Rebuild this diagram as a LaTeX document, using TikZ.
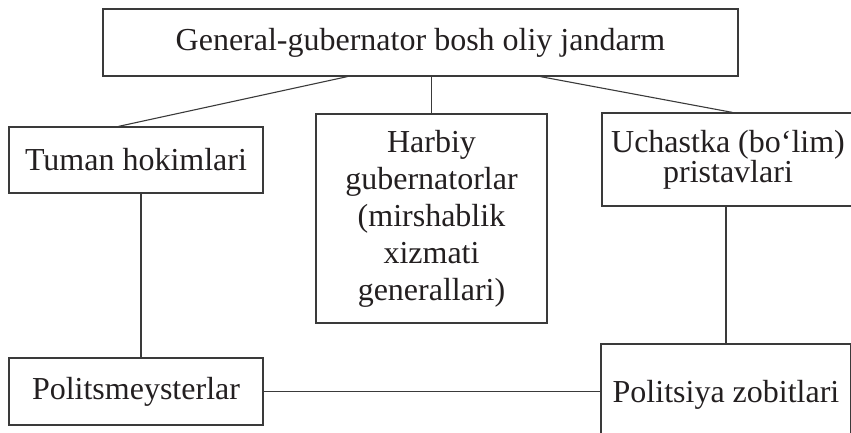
\documentclass[tikz,border=0pt]{standalone}
\usepackage{fontspec}
\setmainfont{Liberation Serif}
\definecolor{inkc}{HTML}{231F20}
\definecolor{linec}{HTML}{3A3A3A}
\begin{document}
\begin{tikzpicture}[x=1pt,y=-1pt,
  box/.style={draw=linec, line width=1.2pt, rectangle, inner sep=0pt, align=center,
    text=inkc, font=\fontsize{32}{37}\selectfont},
  conn/.style={draw=linec, line width=1.1pt}]
\useasboundingbox (0,0) rectangle (851,432);
\clip (0,0) rectangle (851,432);
\node[box, minimum width=635pt, minimum height=67pt] (top) at (420.5,42.5) {General-gubernator bosh oliy jandarm};
\node[box, minimum width=254pt, minimum height=66pt] (tuman) at (136,160) {Tuman hokimlari};
\node[box, minimum width=231pt, minimum height=209pt] (harbiy) at (431.5,218.5) {Harbiy\\gubernatorlar\\(mirshablik\\xizmati\\generallari)};
\node[box, minimum width=252pt, minimum height=93pt, font=\fontsize{32}{28.5}\selectfont] (uch) at (728,159.5) {Uchastka (bo‘lim)\\pristavlari};
\node[box, minimum width=254pt, minimum height=67pt] (polm) at (136,391.5) {Politsmeysterlar};
\node[box, minimum width=250pt, minimum height=102pt] (polz) at (726,395) {Politsiya zobitlari};
\draw[conn] ([xshift=245pt]top.south west) -- ([xshift=110pt]tuman.north west);
\draw[conn] (top.south -| harbiy.north) -- (harbiy.north);
\draw[conn] ([xshift=438pt]top.south west) -- ([xshift=131pt]uch.north west);
\draw[conn] ([xshift=5pt]tuman.south) -- ([xshift=5pt]polm.north);
\draw[conn] (polz.north |- uch.south) -- (polz.north);
\draw[conn] (polm.east) -- (polz.west |- polm.east);
\end{tikzpicture}
\end{document}
